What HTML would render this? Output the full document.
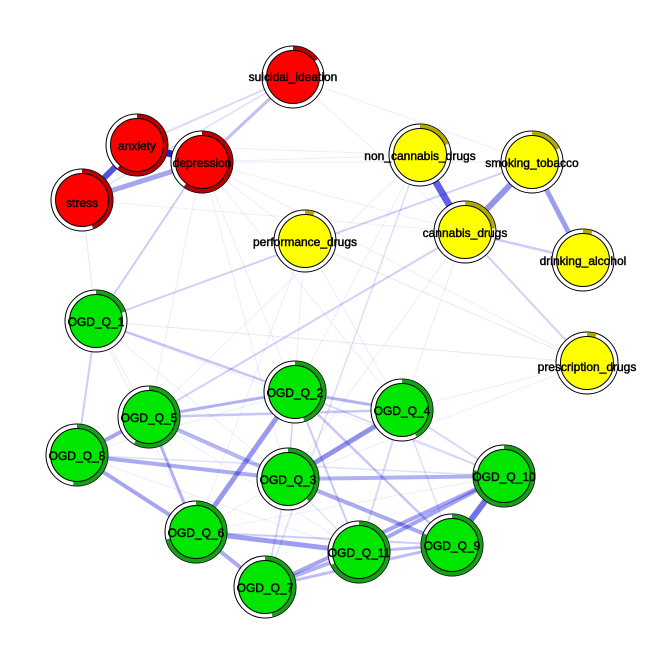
<!DOCTYPE html>
<html><head><meta charset="utf-8"><style>
html,body{margin:0;padding:0;background:#fff;}
svg{display:block;}
text{font-family:"Liberation Sans",Arial,sans-serif;font-size:12px;fill:#000;text-anchor:middle;dominant-baseline:central;stroke:#000;stroke-width:0.45px;}
</style></head><body>
<svg width="664" height="664" viewBox="0 0 664 664" xmlns="http://www.w3.org/2000/svg">
<rect width="664" height="664" fill="#fff"/>
<g stroke="#0000D5" stroke-linecap="butt">
<g stroke-width="1" stroke-opacity="0.07">
<line x1="202" y1="162" x2="420" y2="155"/>
<line x1="202" y1="162" x2="532" y2="162"/>
<line x1="202" y1="162" x2="465" y2="232"/>
<line x1="202" y1="162" x2="305" y2="241"/>
<line x1="202" y1="162" x2="295" y2="392"/>
<line x1="202" y1="162" x2="288" y2="479"/>
<line x1="202" y1="162" x2="149" y2="417"/>
<line x1="202" y1="162" x2="402" y2="410"/>
<line x1="202" y1="162" x2="587" y2="363"/>
<line x1="137" y1="145" x2="420" y2="155"/>
<line x1="82" y1="200" x2="465" y2="232"/>
<line x1="293" y1="77" x2="532" y2="162"/>
<line x1="293" y1="77" x2="465" y2="232"/>
<line x1="305" y1="241" x2="288" y2="479"/>
<line x1="305" y1="241" x2="402" y2="410"/>
<line x1="305" y1="241" x2="196" y2="532"/>
<line x1="420" y1="155" x2="149" y2="417"/>
<line x1="420" y1="155" x2="295" y2="392"/>
<line x1="96" y1="321" x2="196" y2="532"/>
<line x1="96" y1="321" x2="288" y2="479"/>
<line x1="96" y1="321" x2="149" y2="417"/>
<line x1="96" y1="321" x2="504" y2="476"/>
<line x1="77" y1="455" x2="359" y2="552"/>
<line x1="77" y1="455" x2="295" y2="392"/>
<line x1="149" y1="417" x2="359" y2="552"/>
<line x1="149" y1="417" x2="452" y2="545"/>
<line x1="196" y1="532" x2="402" y2="410"/>
<line x1="196" y1="532" x2="504" y2="476"/>
<line x1="587" y1="363" x2="402" y2="410"/>
<line x1="587" y1="363" x2="288" y2="479"/>
<line x1="465" y1="232" x2="402" y2="410"/>
<line x1="465" y1="232" x2="288" y2="479"/>
</g>
<line x1="82" y1="200" x2="96" y2="321" stroke-width="1" stroke-opacity="0.1"/>
<line x1="82" y1="200" x2="293" y2="77" stroke-width="1.5" stroke-opacity="0.13"/>
<line x1="137" y1="145" x2="293" y2="77" stroke-width="2" stroke-opacity="0.15"/>
<line x1="202" y1="162" x2="293" y2="77" stroke-width="3" stroke-opacity="0.25"/>
<line x1="202" y1="162" x2="96" y2="321" stroke-width="2" stroke-opacity="0.2"/>
<line x1="96" y1="321" x2="532" y2="162" stroke-width="2" stroke-opacity="0.18"/>
<line x1="305" y1="241" x2="587" y2="363" stroke-width="1" stroke-opacity="0.1"/>
<line x1="96" y1="321" x2="587" y2="363" stroke-width="1" stroke-opacity="0.1"/>
<line x1="465" y1="232" x2="149" y2="417" stroke-width="2" stroke-opacity="0.18"/>
<line x1="420" y1="155" x2="265" y2="587" stroke-width="1.5" stroke-opacity="0.13"/>
<line x1="465" y1="232" x2="587" y2="363" stroke-width="2" stroke-opacity="0.18"/>
<line x1="465" y1="232" x2="583" y2="260" stroke-width="2.5" stroke-opacity="0.2"/>
<line x1="96" y1="321" x2="295" y2="392" stroke-width="2.5" stroke-opacity="0.22"/>
<line x1="96" y1="321" x2="77" y2="455" stroke-width="2" stroke-opacity="0.2"/>
<line x1="77" y1="455" x2="504" y2="476" stroke-width="1.5" stroke-opacity="0.12"/>
<line x1="295" y1="392" x2="288" y2="479" stroke-width="1.5" stroke-opacity="0.15"/>
<line x1="402" y1="410" x2="504" y2="476" stroke-width="2" stroke-opacity="0.15"/>
<line x1="402" y1="410" x2="359" y2="552" stroke-width="2" stroke-opacity="0.15"/>
<line x1="402" y1="410" x2="452" y2="545" stroke-width="1.5" stroke-opacity="0.12"/>
<line x1="288" y1="479" x2="265" y2="587" stroke-width="2" stroke-opacity="0.15"/>
<line x1="288" y1="479" x2="359" y2="552" stroke-width="1.5" stroke-opacity="0.12"/>
<line x1="295" y1="392" x2="504" y2="476" stroke-width="2" stroke-opacity="0.15"/>
<line x1="295" y1="392" x2="359" y2="552" stroke-width="2" stroke-opacity="0.2"/>
<line x1="295" y1="392" x2="452" y2="545" stroke-width="2.5" stroke-opacity="0.22"/>
<line x1="196" y1="532" x2="452" y2="545" stroke-width="2" stroke-opacity="0.2"/>
<line x1="149" y1="417" x2="402" y2="410" stroke-width="2.5" stroke-opacity="0.22"/>
<line x1="149" y1="417" x2="77" y2="455" stroke-width="4" stroke-opacity="0.35"/>
<line x1="77" y1="455" x2="288" y2="479" stroke-width="4" stroke-opacity="0.33"/>
<line x1="77" y1="455" x2="196" y2="532" stroke-width="4" stroke-opacity="0.35"/>
<line x1="149" y1="417" x2="295" y2="392" stroke-width="3" stroke-opacity="0.3"/>
<line x1="149" y1="417" x2="288" y2="479" stroke-width="4" stroke-opacity="0.28"/>
<line x1="149" y1="417" x2="196" y2="532" stroke-width="3" stroke-opacity="0.3"/>
<line x1="196" y1="532" x2="295" y2="392" stroke-width="5" stroke-opacity="0.4"/>
<line x1="196" y1="532" x2="359" y2="552" stroke-width="5" stroke-opacity="0.38"/>
<line x1="196" y1="532" x2="265" y2="587" stroke-width="4" stroke-opacity="0.33"/>
<line x1="265" y1="587" x2="359" y2="552" stroke-width="4" stroke-opacity="0.3"/>
<line x1="265" y1="587" x2="504" y2="476" stroke-width="4" stroke-opacity="0.35"/>
<line x1="265" y1="587" x2="452" y2="545" stroke-width="3" stroke-opacity="0.25"/>
<line x1="288" y1="479" x2="402" y2="410" stroke-width="5" stroke-opacity="0.42"/>
<line x1="288" y1="479" x2="504" y2="476" stroke-width="4" stroke-opacity="0.3"/>
<line x1="288" y1="479" x2="452" y2="545" stroke-width="4" stroke-opacity="0.33"/>
<line x1="359" y1="552" x2="504" y2="476" stroke-width="4" stroke-opacity="0.35"/>
<line x1="452" y1="545" x2="504" y2="476" stroke-width="6" stroke-opacity="0.55"/>
<line x1="359" y1="552" x2="452" y2="545" stroke-width="3" stroke-opacity="0.25"/>
<line x1="295" y1="392" x2="402" y2="410" stroke-width="3" stroke-opacity="0.3"/>
<line x1="420" y1="155" x2="465" y2="232" stroke-width="7" stroke-opacity="0.62"/>
<line x1="532" y1="162" x2="465" y2="232" stroke-width="6" stroke-opacity="0.42"/>
<line x1="532" y1="162" x2="583" y2="260" stroke-width="5" stroke-opacity="0.38"/>
<line x1="82" y1="200" x2="202" y2="162" stroke-width="5" stroke-opacity="0.35"/>
<line x1="137" y1="145" x2="82" y2="200" stroke-width="6" stroke-opacity="0.68"/>
<line x1="137" y1="145" x2="202" y2="162" stroke-width="7" stroke-opacity="0.87"/>
</g>

<g stroke="#000" stroke-width="1">
<circle cx="293" cy="77" r="31" fill="#fff"/>
<circle cx="293" cy="77" r="28.5" fill="none" stroke="#B40000" stroke-width="4.5" stroke-dasharray="26.9 200" transform="rotate(-90 293 77)"/>
<circle cx="293" cy="77" r="26.5" fill="#FF0000"/>

<circle cx="137" cy="145" r="31" fill="#fff"/>
<circle cx="137" cy="145" r="28.5" fill="none" stroke="#B40000" stroke-width="4.5" stroke-dasharray="109.2 200" transform="rotate(-90 137 145)"/>
<circle cx="137" cy="145" r="26.5" fill="#FF0000"/>

<circle cx="202" cy="162" r="31" fill="#fff"/>
<circle cx="202" cy="162" r="28.5" fill="none" stroke="#B40000" stroke-width="4.5" stroke-dasharray="107.4 200" transform="rotate(-90 202 162)"/>
<circle cx="202" cy="162" r="26.5" fill="#FF0000"/>

<circle cx="82" cy="200" r="31" fill="#fff"/>
<circle cx="82" cy="200" r="28.5" fill="none" stroke="#B40000" stroke-width="4.5" stroke-dasharray="78.8 200" transform="rotate(-90 82 200)"/>
<circle cx="82" cy="200" r="26.5" fill="#FF0000"/>

<circle cx="305" cy="241" r="31" fill="#fff"/>
<circle cx="305" cy="241" r="28.5" fill="none" stroke="#B3AA00" stroke-width="4.5" stroke-dasharray="9 200" transform="rotate(-90 305 241)"/>
<circle cx="305" cy="241" r="26.5" fill="#FFFF00"/>

<circle cx="420" cy="155" r="31" fill="#fff"/>
<circle cx="420" cy="155" r="28.5" fill="none" stroke="#B3AA00" stroke-width="4.5" stroke-dasharray="34 200" transform="rotate(-90 420 155)"/>
<circle cx="420" cy="155" r="26.5" fill="#FFFF00"/>

<circle cx="532" cy="162" r="31" fill="#fff"/>
<circle cx="532" cy="162" r="28.5" fill="none" stroke="#B3AA00" stroke-width="4.5" stroke-dasharray="31.3 200" transform="rotate(-90 532 162)"/>
<circle cx="532" cy="162" r="26.5" fill="#FFFF00"/>

<circle cx="465" cy="232" r="31" fill="#fff"/>
<circle cx="465" cy="232" r="28.5" fill="none" stroke="#B3AA00" stroke-width="4.5" stroke-dasharray="41.2 200" transform="rotate(-90 465 232)"/>
<circle cx="465" cy="232" r="26.5" fill="#FFFF00"/>

<circle cx="583" cy="260" r="31" fill="#fff"/>
<circle cx="583" cy="260" r="28.5" fill="none" stroke="#B3AA00" stroke-width="4.5" stroke-dasharray="9 200" transform="rotate(-90 583 260)"/>
<circle cx="583" cy="260" r="26.5" fill="#FFFF00"/>

<circle cx="587" cy="363" r="31" fill="#fff"/>
<circle cx="587" cy="363" r="28.5" fill="none" stroke="#B3AA00" stroke-width="4.5" stroke-dasharray="9 200" transform="rotate(-90 587 363)"/>
<circle cx="587" cy="363" r="26.5" fill="#FFFF00"/>

<circle cx="96" cy="321" r="31" fill="#fff"/>
<circle cx="96" cy="321" r="28.5" fill="none" stroke="#16A016" stroke-width="4.5" stroke-dasharray="35.8 200" transform="rotate(-90 96 321)"/>
<circle cx="96" cy="321" r="26.5" fill="#00E600"/>

<circle cx="295" cy="392" r="31" fill="#fff"/>
<circle cx="295" cy="392" r="28.5" fill="none" stroke="#16A016" stroke-width="4.5" stroke-dasharray="80.6 200" transform="rotate(-90 295 392)"/>
<circle cx="295" cy="392" r="26.5" fill="#00E600"/>

<circle cx="149" cy="417" r="31" fill="#fff"/>
<circle cx="149" cy="417" r="28.5" fill="none" stroke="#16A016" stroke-width="4.5" stroke-dasharray="103.9 200" transform="rotate(-90 149 417)"/>
<circle cx="149" cy="417" r="26.5" fill="#00E600"/>

<circle cx="77" cy="455" r="31" fill="#fff"/>
<circle cx="77" cy="455" r="28.5" fill="none" stroke="#16A016" stroke-width="4.5" stroke-dasharray="93.1 200" transform="rotate(-90 77 455)"/>
<circle cx="77" cy="455" r="26.5" fill="#00E600"/>

<circle cx="402" cy="410" r="31" fill="#fff"/>
<circle cx="402" cy="410" r="28.5" fill="none" stroke="#16A016" stroke-width="4.5" stroke-dasharray="75.2 200" transform="rotate(-90 402 410)"/>
<circle cx="402" cy="410" r="26.5" fill="#00E600"/>

<circle cx="288" cy="479" r="31" fill="#fff"/>
<circle cx="288" cy="479" r="28.5" fill="none" stroke="#16A016" stroke-width="4.5" stroke-dasharray="68 200" transform="rotate(-90 288 479)"/>
<circle cx="288" cy="479" r="26.5" fill="#00E600"/>

<circle cx="504" cy="476" r="31" fill="#fff"/>
<circle cx="504" cy="476" r="28.5" fill="none" stroke="#16A016" stroke-width="4.5" stroke-dasharray="139.7 200" transform="rotate(-90 504 476)"/>
<circle cx="504" cy="476" r="26.5" fill="#00E600"/>

<circle cx="196" cy="532" r="31" fill="#fff"/>
<circle cx="196" cy="532" r="28.5" fill="none" stroke="#16A016" stroke-width="4.5" stroke-dasharray="127.1 200" transform="rotate(-90 196 532)"/>
<circle cx="196" cy="532" r="26.5" fill="#00E600"/>

<circle cx="452" cy="545" r="31" fill="#fff"/>
<circle cx="452" cy="545" r="28.5" fill="none" stroke="#16A016" stroke-width="4.5" stroke-dasharray="145 200" transform="rotate(-90 452 545)"/>
<circle cx="452" cy="545" r="26.5" fill="#00E600"/>

<circle cx="359" cy="552" r="31" fill="#fff"/>
<circle cx="359" cy="552" r="28.5" fill="none" stroke="#16A016" stroke-width="4.5" stroke-dasharray="121.8 200" transform="rotate(-90 359 552)"/>
<circle cx="359" cy="552" r="26.5" fill="#00E600"/>

<circle cx="265" cy="587" r="31" fill="#fff"/>
<circle cx="265" cy="587" r="28.5" fill="none" stroke="#16A016" stroke-width="4.5" stroke-dasharray="82.4 200" transform="rotate(-90 265 587)"/>
<circle cx="265" cy="587" r="26.5" fill="#00E600"/>
</g>

<g>
<text x="293" y="77">suicidal_ideation</text>
<text x="137" y="146">anxiety</text>
<text x="202" y="163">depression</text>
<text x="82" y="203">stress</text>
<text x="305" y="242">performance_drugs</text>
<text x="420" y="156">non_cannabis_drugs</text>
<text x="532" y="163">smoking_tobacco</text>
<text x="465" y="233">cannabis_drugs</text>
<text x="583" y="261">drinking_alcohol</text>
<text x="587" y="367">prescription_drugs</text>
<text x="96" y="322">OGD_Q_1</text>
<text x="295" y="393">OGD_Q_2</text>
<text x="149" y="418">OGD_Q_5</text>
<text x="77" y="456">OGD_Q_8</text>
<text x="402" y="411">OGD_Q_4</text>
<text x="288" y="480">OGD_Q_3</text>
<text x="504" y="477">OGD_Q_10</text>
<text x="196" y="533">OGD_Q_6</text>
<text x="452" y="546">OGD_Q_9</text>
<text x="359" y="553">OGD_Q_11</text>
<text x="265" y="588">OGD_Q_7</text>
</g>
</svg>
</body></html>
